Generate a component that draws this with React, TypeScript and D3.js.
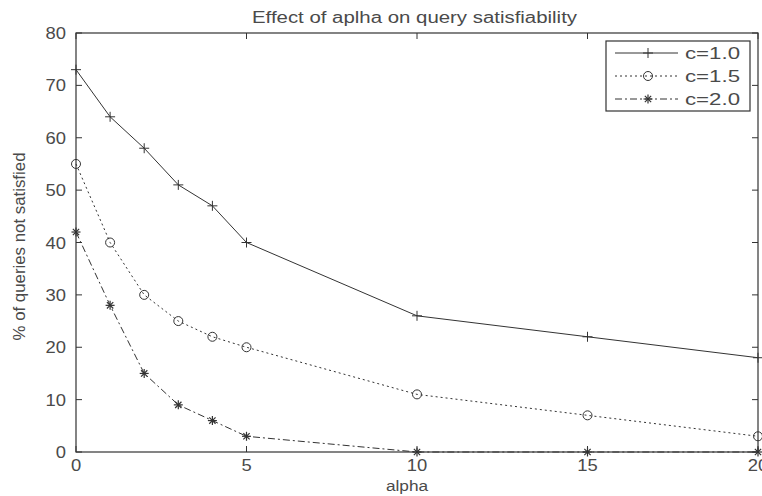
import * as d3 from 'd3';

// values
const alphas = [0, 1, 2, 3, 4, 5, 10, 15, 20];
const seriesNames = ['c=1.0', 'c=1.5', 'c=2.0'];
const c10 = [73, 64, 58, 51, 47, 40, 26, 22, 18];
const c15 = [55, 40, 30, 25, 22, 20, 11, 7, 3];
const c20 = [42, 28, 15, 9, 6, 3, 0, 0, 0];
const xTicks = [0, 5, 10, 15, 20];
const yTicks = [0, 10, 20, 30, 40, 50, 60, 70, 80];

const W = 762;
const H = 496;
const margin = { top: 33, right: 4, bottom: 44, left: 76 };
const FONT = 'Liberation Sans, Arial, sans-serif';
const INK = '#333';
const TXT = '#4a4a4a';
const SX = 1.15; // the source picture is a bit stretched sideways

const dashes = ['none', '2,3', '7,3,2,3'];

function Marker({ kind, x, y }: { kind: number; x: number; y: number }) {
  if (kind === 0) {
    return (
      <g stroke={INK} strokeWidth={1}>
        <line x1={x - 5} x2={x + 5} y1={y} y2={y} />
        <line x1={x} x2={x} y1={y - 5} y2={y + 5} />
      </g>
    );
  }
  if (kind === 1) {
    return <circle cx={x} cy={y} r={4.5} fill="none" stroke={INK} strokeWidth={1} />;
  }
  const r = 4.5;
  return (
    <g stroke={INK} strokeWidth={1.2}>
      <line x1={x - r} x2={x + r} y1={y} y2={y} />
      <line x1={x} x2={x} y1={y - r} y2={y + r} />
      <line x1={x - r * 0.7} x2={x + r * 0.7} y1={y - r * 0.7} y2={y + r * 0.7} />
      <line x1={x - r * 0.7} x2={x + r * 0.7} y1={y + r * 0.7} y2={y - r * 0.7} />
    </g>
  );
}

function Label({ x, y, size, anchor, children }: { x: number; y: number; size: number; anchor: string; children: any }) {
  return (
    <text
      transform={`translate(${x},${y}) scale(${SX},1)`}
      textAnchor={anchor}
      fontFamily={FONT}
      fontSize={size}
      fill={TXT}
    >
      {children}
    </text>
  );
}

export default function App() {
  const x = d3.scaleLinear().domain([0, 20]).range([margin.left, W - margin.right]);
  const y = d3.scaleLinear().domain([0, 80]).range([H - margin.bottom, margin.top]);
  const series = [c10, c15, c20];

  const line = d3
    .line<number>()
    .x((_, i) => x(alphas[i]))
    .y(d => y(d));

  const x0 = x(0);
  const x1 = x(20);
  const y0 = y(0);
  const y1 = y(80);

  const legendX = 606;
  const legendY = 41;

  return (
    <svg width={W} height={H} style={{ position: 'absolute', left: 0, top: 0, background: '#fff' }}>
      <rect x={0} y={0} width={W} height={H} fill="#fff" />
      <text
        x={252}
        y={23}
        fontFamily={FONT}
        fontSize={16}
        fill={TXT}
        textLength={325}
        lengthAdjust="spacingAndGlyphs"
      >
        Effect of aplha on query satisfiability
      </text>

      {/* ticks, inside the box */}
      <g stroke={INK} strokeWidth={1}>
        {xTicks.map(t => (
          <g key={'x' + t}>
            <line x1={x(t)} x2={x(t)} y1={y0} y2={y0 - 6} />
            <line x1={x(t)} x2={x(t)} y1={y1} y2={y1 + 6} />
          </g>
        ))}
        {yTicks.map(t => (
          <g key={'y' + t}>
            <line x1={x0} x2={x0 + 6} y1={y(t)} y2={y(t)} />
            <line x1={x1} x2={x1 - 6} y1={y(t)} y2={y(t)} />
          </g>
        ))}
      </g>

      {xTicks.map(t => (
        <Label key={'xl' + t} x={x(t)} y={y0 + 19} size={16} anchor="middle">
          {t}
        </Label>
      ))}
      {yTicks.map(t => (
        <Label key={'yl' + t} x={x0 - 10} y={y(t) + 6} size={16} anchor="end">
          {t}
        </Label>
      ))}

      {series.map((s, k) => (
        <g key={seriesNames[k]}>
          <path d={line(s) ?? ''} fill="none" stroke={INK} strokeWidth={1} strokeDasharray={dashes[k]} />
          {s.map((v, i) => (
            <Marker key={i} kind={k} x={x(alphas[i])} y={y(v)} />
          ))}
        </g>
      ))}

      <rect x={x0} y={y1} width={x1 - x0} height={y0 - y1} fill="none" stroke={INK} strokeWidth={1.2} />

      {/* legend */}
      <rect x={legendX} y={legendY} width={144} height={70} fill="#fff" stroke={INK} strokeWidth={1.2} />
      {seriesNames.map((n, k) => {
        const ly = legendY + 12 + k * 23;
        return (
          <g key={'lg' + n}>
            <line x1={legendX + 9} x2={legendX + 72} y1={ly} y2={ly} stroke={INK} strokeDasharray={dashes[k]} />
            <Marker kind={k} x={legendX + 42} y={ly} />
            <text
              x={legendX + 79}
              y={ly + 6}
              fontFamily={FONT}
              fontSize={16}
              fill={TXT}
              textLength={55}
              lengthAdjust="spacingAndGlyphs"
            >
              {n}
            </text>
          </g>
        );
      })}

      <Label x={407} y={491} size={15} anchor="middle">
        alpha
      </Label>
      <text
        transform={`translate(25,${(y0 + y1) / 2 + 4}) rotate(-90)`}
        textAnchor="middle"
        fontFamily={FONT}
        fontSize={16}
        fill={TXT}
        textLength={188}
        lengthAdjust="spacingAndGlyphs"
      >
        % of queries not satisfied
      </text>
    </svg>
  );
}
